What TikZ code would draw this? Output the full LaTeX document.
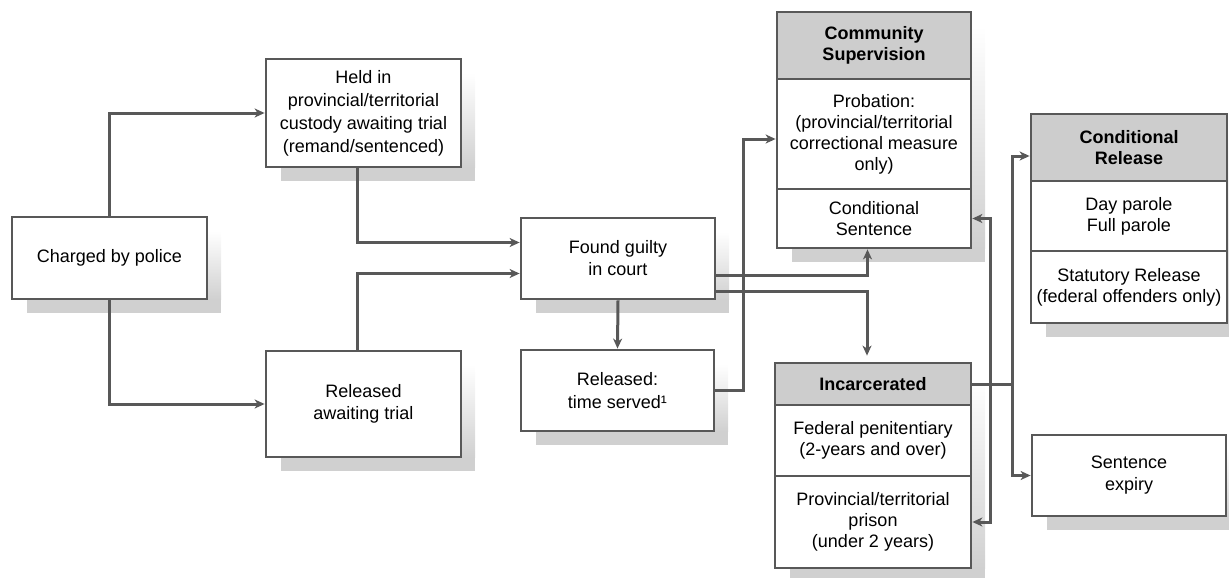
\documentclass[tikz,border=0pt]{standalone}
\usepackage{fontspec}
\setmainfont{Liberation Sans}
\usetikzlibrary{arrows.meta,calc}
\definecolor{linec}{RGB}{88,88,88}
\definecolor{headc}{RGB}{205,205,205}
\definecolor{shadc}{RGB}{208,208,208}
\newcommand\dropshade[4]{%
  \fill[shadc] (#1+15,#4) rectangle (#3+14,#4+14);
  \shade[top color=white,bottom color=shadc] (#3,#2+14) rectangle (#3+14,#4+0.5);
}
\tikzset{
  box/.style={draw=linec, line width=2.8pt, fill=white, align=center, inner sep=0pt,
    text=black, font=\fontsize{18}{22}\selectfont},
  part/.style={box, font=\fontsize{18}{21}\selectfont},
  headbox/.style={box, fill=headc, font=\fontsize{18}{21}\selectfont\bfseries},
  conn/.style={draw=linec, line width=3pt},
  arr/.style={conn, -{Stealth[length=10pt,width=9pt,inset=3pt]}},
  arrboth/.style={conn, {Stealth[length=10pt,width=9pt,inset=3pt]}-{Stealth[length=10pt,width=9pt,inset=3pt]}}
}
\begin{document}
\begin{tikzpicture}[x=1pt,y=-1pt]
\useasboundingbox (0,0) rectangle (1229,578);
% shadows
\dropshade{12}{217}{207}{299}
\dropshade{266}{59}{461}{167}
\dropshade{266}{351}{461}{457}
\dropshade{521}{218}{715}{299}
\dropshade{521}{350}{714}{431}
\dropshade{777}{12}{971}{248}
\dropshade{775}{363}{971}{568}
\dropshade{1031}{114}{1227}{323}
\dropshade{1032}{435}{1226}{516}
% boxes
\node[box, minimum width=195, minimum height=82] (charged) at (109.5,258) {Charged by police};
\node[box, minimum width=195, minimum height=108, font=\fontsize{18}{23}\selectfont] (held) at (363.5,113) {Held in\\provincial/territorial\\custody awaiting trial\\(remand/sentenced)};
\node[box, minimum width=195, minimum height=106] (relawait) at (363.5,404) {Released\\awaiting trial};
\node[box, minimum width=194, minimum height=81] (found) at (618,258.5) {Found guilty\\in court};
\node[box, minimum width=193, minimum height=81, font=\fontsize{18}{23}\selectfont] (reltime) at (617.5,390.5) {Released:\\time served¹};
\node[headbox, minimum width=194, minimum height=67] (csh) at (874,45.5) {Community\\Supervision};
\node[part, minimum width=194, minimum height=110] (csp) at (874,134) {Probation:\\(provincial/territorial\\correctional measure\\only)};
\node[part, minimum width=194, minimum height=59] (csc) at (874,218.5) {Conditional\\Sentence};
\node[headbox, minimum width=196, minimum height=42] (inch) at (873,384) {Incarcerated};
\node[part, minimum width=196, minimum height=71] (incf) at (873,440.5) {Federal penitentiary\\(2-years and over)};
\node[part, minimum width=196, minimum height=92] (incp) at (873,522) {Provincial/territorial\\prison\\(under 2 years)};
\node[headbox, minimum width=196, minimum height=67] (crh) at (1129,147.5) {Conditional\\Release};
\node[part, minimum width=196, minimum height=70] (crp) at (1129,216) {Day parole\\Full parole};
\node[part, minimum width=196, minimum height=72] (crs) at (1129,287) {Statutory Release\\(federal offenders only)};
\node[box, minimum width=194, minimum height=81] (expiry) at (1129,475.5) {Sentence\\expiry};
% connectors
\draw[arr] (charged.north) |- (held.west);
\draw[arr] (charged.south) |- (relawait.west);
\draw[arr] ([xshift=-6.5pt]held.south) |- ([yshift=16pt]found.west);
\draw[arr] ([xshift=-6.5pt]relawait.north) |- ([yshift=-15pt]found.west);
\draw[arr] (found.south) -- (reltime.north);
\draw[arr] (reltime.east) -- ++(28.5,0) |- ([yshift=-5pt]csp.west);
\draw[arr] ([yshift=-16.5pt]found.east) -| ([xshift=-6.5pt]csc.south);
\draw[arr, shorten >=6pt] ([yshift=-32.5pt]found.east) -| ([xshift=-6pt]inch.north);
\draw[arrboth] (csc.east) -- ++(18,0) |- (incp.east);
\draw[conn] (inch.east) -- ++(40,0) coordinate (br);
\draw[arr] (br) |- ([yshift=-8.5pt]crh.west);
\draw[arr] (br) |- (expiry.west);
\end{tikzpicture}
\end{document}
